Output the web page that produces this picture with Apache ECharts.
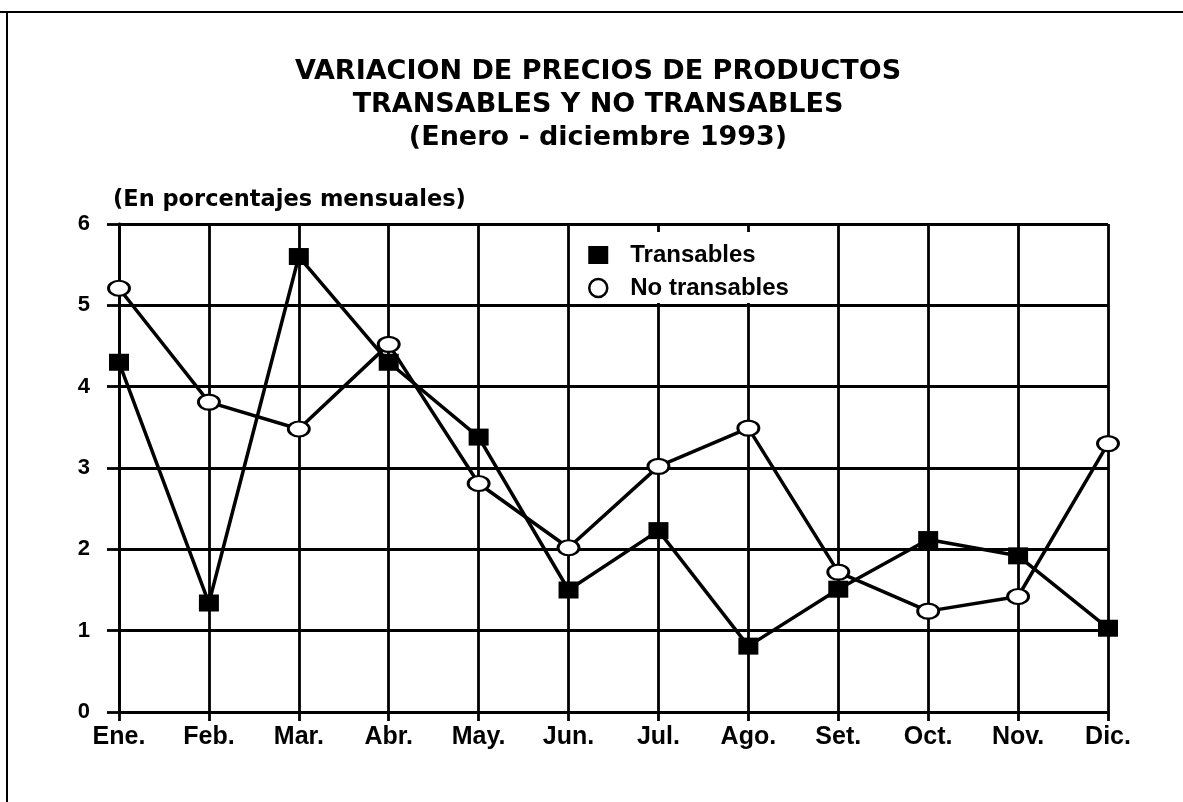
<!DOCTYPE html>
<html>
<head>
<meta charset="utf-8">
<script src="https://cdn.jsdelivr.net/npm/echarts@6/dist/echarts.min.js"></script>
<style>html,body{margin:0;padding:0;background:#fff}#c{width:1183px;height:802px}</style>
</head>
<body>
<div id="c"></div>
<script>
const months = ['Ene.', 'Feb.', 'Mar.', 'Abr.', 'May.', 'Jun.', 'Jul.', 'Ago.', 'Set.', 'Oct.', 'Nov.', 'Dic.'];
const transables = [4.30, 1.34, 5.60, 4.30, 3.38, 1.50, 2.23, 0.81, 1.51, 2.12, 1.92, 1.03];
const noTransables = [5.21, 3.81, 3.48, 4.52, 2.81, 2.02, 3.02, 3.49, 1.72, 1.24, 1.42, 3.30];
const yTicks = [0, 1, 2, 3, 4, 5, 6];

const titleText = 'VARIACION DE PRECIOS DE PRODUCTOS\nTRANSABLES Y NO TRANSABLES\n(Enero - diciembre 1993)';
const unitText = '(En porcentajes mensuales)';
const ellipse = 'path://M0,10 A10,10 0 1,1 20,10 A10,10 0 1,1 0,10 Z';

const chart = echarts.init(document.getElementById('c'), null, {renderer: 'canvas'});
chart.setOption({
  backgroundColor: '#fff',
  animation: false,
  title: [{
    text: titleText,
    left: 598, top: 55, textAlign: 'center', padding: 0,
    textStyle: {fontFamily: 'DejaVu Sans', fontWeight: 'bold', fontSize: 27, lineHeight: 33, color: '#000'}
  }, {
    text: unitText,
    left: 113, top: 189, padding: 0,
    textStyle: {fontFamily: 'DejaVu Sans', fontWeight: 'bold', fontSize: 22.5, color: '#000'}
  }],
  graphic: [
    {type: 'line', shape: {x1: 0, y1: 12, x2: 1183, y2: 12}, style: {stroke: '#000', lineWidth: 2}},
    {type: 'line', shape: {x1: 7, y1: 12, x2: 7, y2: 802}, style: {stroke: '#000', lineWidth: 2}}
  ],
  grid: {left: 119, right: 75, top: 224, bottom: 90, containLabel: false},
  legend: {
    orient: 'vertical', left: 576, top: 232,
    backgroundColor: '#fff', padding: [11, 12, 3, 12], itemGap: 9,
    itemWidth: 20, itemHeight: 18,
    textStyle: {fontFamily: 'Liberation Sans', fontWeight: 'bold', fontSize: 24, color: '#000', padding: [0, 0, 0, 17]},
    data: [
      {name: 'Transables', icon: 'rect', itemStyle: {color: '#000'}},
      {name: 'No transables', icon: ellipse, itemStyle: {color: '#fff', borderColor: '#000', borderWidth: 2.5}}
    ]
  },
  xAxis: {
    type: 'category', boundaryGap: false, data: months,
    axisLine: {show: true, lineStyle: {color: '#000', width: 2.8}},
    axisTick: {show: true, length: 9, lineStyle: {color: '#000', width: 2.8}},
    axisLabel: {fontFamily: 'Liberation Sans', fontWeight: 'bold', fontSize: 25, color: '#000', margin: 13},
    splitLine: {show: true, lineStyle: {color: '#000', width: 2.8}}
  },
  yAxis: {
    type: 'value', min: yTicks[0], max: yTicks[yTicks.length - 1], interval: 1,
    axisLine: {show: true, lineStyle: {color: '#000', width: 2.8}},
    axisTick: {show: true, length: 12, lineStyle: {color: '#000', width: 2.8}},
    axisLabel: {fontFamily: 'Liberation Sans', fontWeight: 'bold', fontSize: 22, color: '#000', margin: 29},
    splitLine: {show: true, lineStyle: {color: '#000', width: 2.8}}
  },
  series: [{
    name: 'No transables', type: 'line', data: noTransables, z: 3,
    symbol: ellipse, symbolSize: [21, 15], showAllSymbol: true,
    lineStyle: {color: '#000', width: 3.5},
    itemStyle: {color: '#fff', borderColor: '#000', borderWidth: 2.5}
  }, {
    name: 'Transables', type: 'line', data: transables, z: 4,
    symbol: 'rect', symbolSize: [20, 17], showAllSymbol: true,
    lineStyle: {color: '#000', width: 3.5},
    itemStyle: {color: '#000', borderWidth: 0}
  }]
});
</script>
</body>
</html>
